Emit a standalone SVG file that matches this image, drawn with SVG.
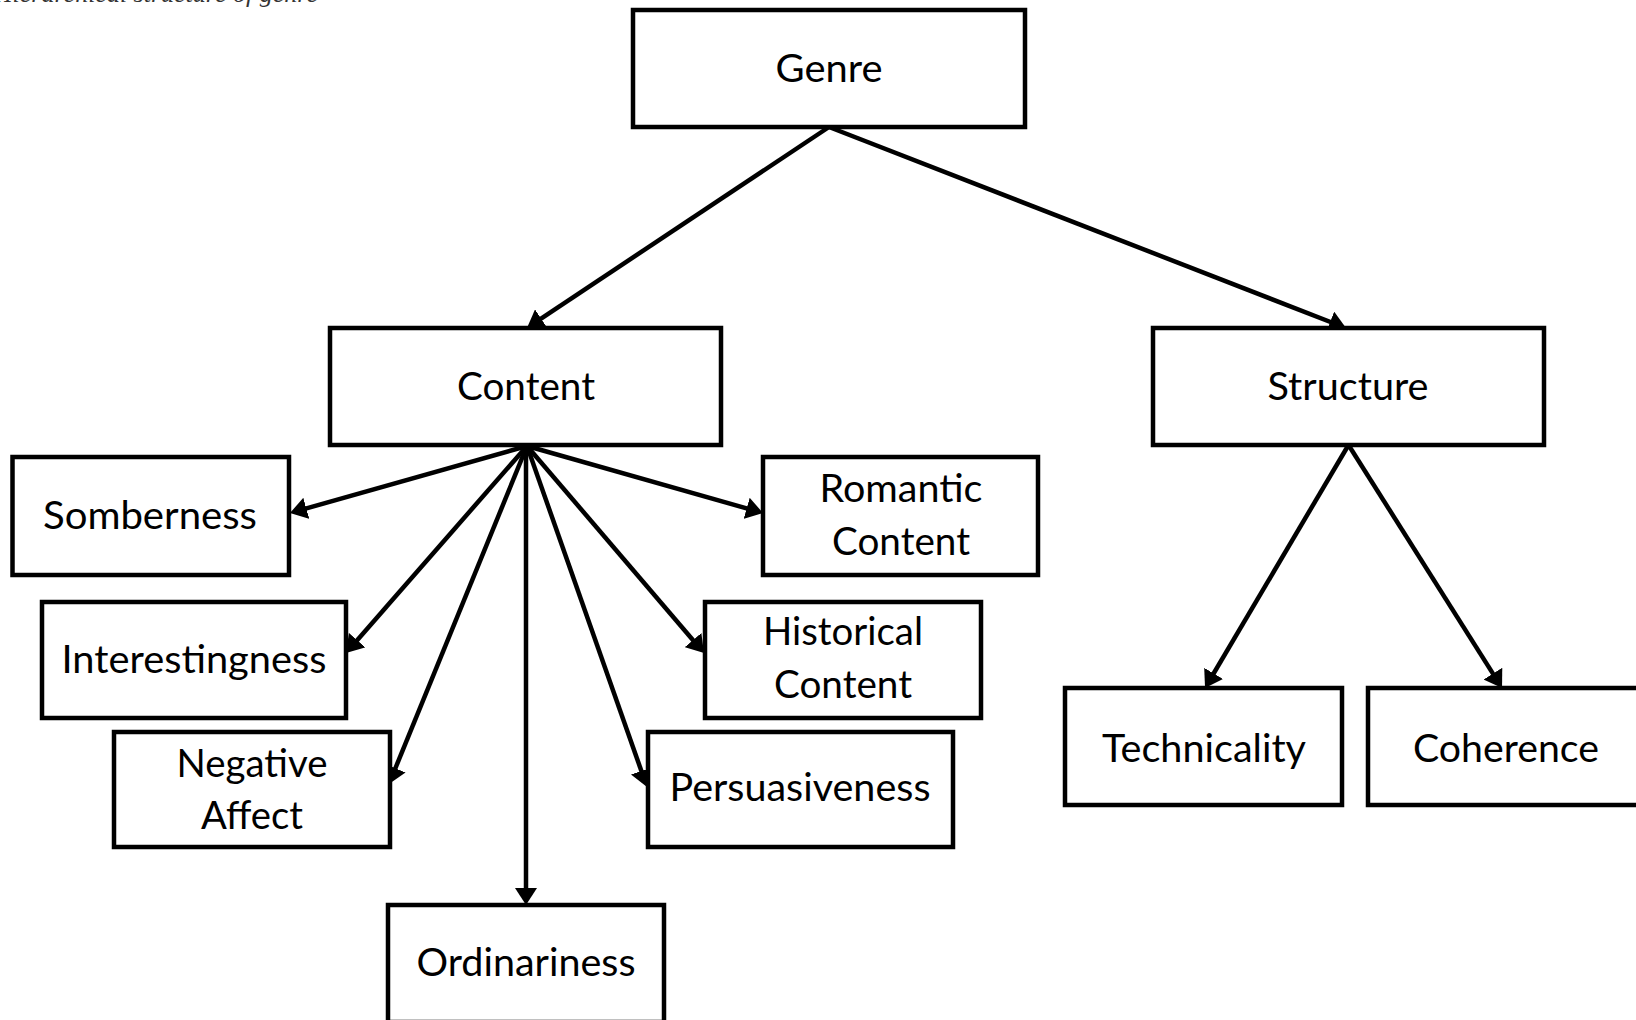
<svg xmlns="http://www.w3.org/2000/svg" width="1636" height="1020" viewBox="0 0 1636 1020">
<style>
.box{fill:#fff;stroke:#000;stroke-width:4.5}
.lbl{font-family:Lato,"Liberation Sans",sans-serif;font-size:39px;fill:#000;text-anchor:middle}
.edge{stroke:#000;stroke-width:4.5;fill:none;marker-end:url(#ah)}
.cap{font-family:"Liberation Serif",serif;font-style:italic;font-size:26px;fill:#333;text-anchor:end}
</style>
<defs>
<marker id="ah" markerUnits="userSpaceOnUse" viewBox="0 0 17 22" refX="10" refY="11" markerWidth="17" markerHeight="22" orient="auto">
<path d="M0,0 L17,11 L0,22 Z" fill="#000"/>
</marker>
</defs>
<rect width="1636" height="1020" fill="#fff"/>
<text class="cap" x="318" y="2">Fig. 1 Hierarchical structure of genre</text>
<g id="connectors">
<line class="edge" x1="829" y1="127" x2="532.8" y2="324.1"/>
<line class="edge" x1="829" y1="127" x2="1339.5" y2="325.5"/>
<line class="edge" x1="1348.5" y1="445" x2="1208.6" y2="682"/>
<line class="edge" x1="1348.5" y1="445" x2="1498.3" y2="682.1"/>
<line class="edge" x1="527" y1="446" x2="296.7" y2="511.1"/>
<line class="edge" x1="527" y1="446" x2="350.6" y2="647.7"/>
<line class="edge" x1="527" y1="446" x2="391.6" y2="777.5"/>
<line class="edge" x1="526" y1="446" x2="526" y2="898"/>
<line class="edge" x1="527" y1="446" x2="644.7" y2="780.4"/>
<line class="edge" x1="527" y1="446" x2="699.5" y2="647.7"/>
<line class="edge" x1="527" y1="446" x2="756.3" y2="511.1"/>
</g>
<g id="genre"><rect class="box" x="633" y="10" width="392" height="117"/><text class="lbl" x="829" y="82" textLength="107" lengthAdjust="spacingAndGlyphs">Genre</text></g>
<g id="content"><rect class="box" x="330" y="328" width="391" height="117"/><text class="lbl" x="526" y="400" textLength="138" lengthAdjust="spacingAndGlyphs">Content</text></g>
<g id="structure"><rect class="box" x="1153" y="328" width="391" height="117"/><text class="lbl" x="1348" y="400" textLength="161" lengthAdjust="spacingAndGlyphs">Structure</text></g>
<g id="somberness"><rect class="box" x="12.5" y="457" width="276.5" height="118"/><text class="lbl" x="150" y="529" textLength="214" lengthAdjust="spacingAndGlyphs">Somberness</text></g>
<g id="interestingness"><rect class="box" x="42" y="602" width="304" height="116"/><text class="lbl" x="194" y="673" textLength="265" lengthAdjust="spacingAndGlyphs">Interestingness</text></g>
<g id="negative-affect"><rect class="box" x="114" y="732" width="276" height="115"/><text class="lbl" x="252" y="777" textLength="151" lengthAdjust="spacingAndGlyphs">Negative</text><text class="lbl" x="252" y="829" textLength="102" lengthAdjust="spacingAndGlyphs">Affect</text></g>
<g id="romantic-content"><rect class="box" x="763" y="457" width="275" height="118"/><text class="lbl" x="901" y="502" textLength="163" lengthAdjust="spacingAndGlyphs">Romantic</text><text class="lbl" x="901" y="555" textLength="138" lengthAdjust="spacingAndGlyphs">Content</text></g>
<g id="historical-content"><rect class="box" x="705" y="602" width="276" height="116"/><text class="lbl" x="843" y="645" textLength="160" lengthAdjust="spacingAndGlyphs">Historical</text><text class="lbl" x="843" y="698" textLength="138" lengthAdjust="spacingAndGlyphs">Content</text></g>
<g id="persuasiveness"><rect class="box" x="648" y="732" width="305" height="115"/><text class="lbl" x="800" y="801" textLength="261" lengthAdjust="spacingAndGlyphs">Persuasiveness</text></g>
<g id="ordinariness"><rect class="box" x="388" y="905" width="276" height="117"/><text class="lbl" x="526" y="976" textLength="219" lengthAdjust="spacingAndGlyphs">Ordinariness</text></g>
<g id="technicality"><rect class="box" x="1065" y="688" width="277" height="117"/><text class="lbl" x="1204" y="762" textLength="204" lengthAdjust="spacingAndGlyphs">Technicality</text></g>
<g id="coherence"><rect class="box" x="1368" y="688" width="277" height="117"/><text class="lbl" x="1506" y="762" textLength="186" lengthAdjust="spacingAndGlyphs">Coherence</text></g>
</svg>
